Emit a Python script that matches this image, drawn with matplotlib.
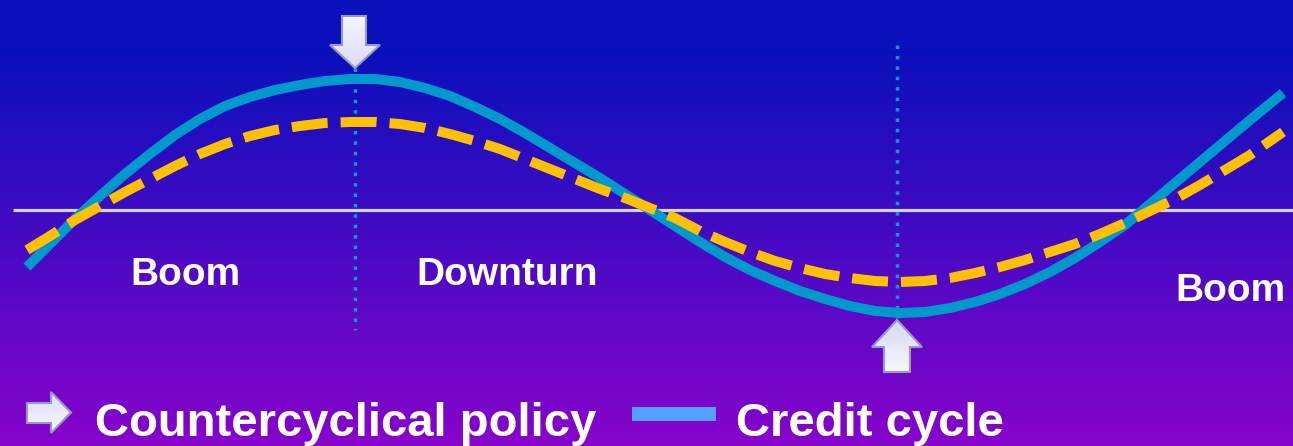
import numpy as np
import matplotlib
matplotlib.use('Agg')
import matplotlib.pyplot as plt
from matplotlib.patches import Polygon, Rectangle

plt.rcParams['font.family'] = ['Liberation Sans', 'DejaVu Sans']

# Credit cycle (solid) - level relative to the zero line
credit_x = [27, 50, 75, 100, 125, 150, 175, 200, 225, 250, 275, 300, 325,
            350, 375, 400, 425, 450, 475, 500, 525, 550, 575, 600, 625, 650,
            675, 700, 725, 750, 775, 800, 825, 850, 875, 900, 925, 950, 975,
            1000, 1025, 1050, 1075, 1100, 1125, 1150, 1175, 1200, 1225, 1250,
            1283]
credit_y = [-57, -34, -9, 14, 36, 56, 75, 91, 104, 113, 120, 125, 129,
            131, 131, 128, 122, 114, 103, 91, 77, 62, 47, 32, 16, 0,
            -16, -32, -47, -60, -71, -81, -89, -96, -101, -103, -102, -98, -92,
            -84, -74, -62, -48, -32, -15, 6, 27, 48, 69, 90,
            117]

# Cycle with countercyclical policy (dashed)
policy_x = [27, 50, 75, 100, 125, 150, 175, 200, 225, 250, 275, 300, 325,
            350, 375, 400, 425, 450, 475, 500, 525, 550, 575, 600, 625, 650,
            675, 700, 725, 750, 775, 800, 825, 850, 875, 900, 925, 950, 975,
            1000, 1025, 1050, 1075, 1100, 1125, 1150, 1175, 1200, 1225, 1250,
            1283]
policy_y = [-40, -26, -10, 4, 18, 31, 44, 56, 66, 74, 80, 84, 87,
            88, 88, 86, 82, 76, 69, 61, 51, 41, 31, 21, 12, 2,
            -8, -21, -32, -42, -51, -58, -64, -68, -71, -72, -71, -68, -63,
            -57, -50, -42, -34, -24, -13, -1, 11, 25, 40, 55,
            78]

# turning points where policy acts
peak_x = 355
trough_x = 897

phase_labels = ['Boom', 'Downturn', 'Boom']
phase_x = [185, 507, 1230]
phase_y = [-65, -65, -81]

legend_labels = ['Countercyclical policy', 'Credit cycle']

W, H = 1293, 446
fig = plt.figure(figsize=(W / 100, H / 100), dpi=100)
ax = fig.add_axes([0, 0, 1, 1])
ax.set_xlim(0, W)
ax.set_ylim(-236, 210)
ax.axis('off')

# background gradient blue -> purple
rows = np.linspace(0, 1, H)
t = np.clip((rows * H - 50) / (H - 50), 0, 1)
top = np.array([10, 16, 188]) / 255
bot = np.array([136, 4, 204]) / 255
grad = top[None, :] * (1 - t[:, None]) + bot[None, :] * t[:, None]
ax.imshow(grad[:, None, :], extent=[0, W, -236, 210], aspect='auto',
          origin='upper', zorder=0)

# zero line
ax.plot([13, W], [0, 0], color='#d2d2e8', lw=2.3, zorder=1, solid_capstyle='butt')

# vertical dotted markers
ax.plot([peak_x, peak_x], [142, -120], color='#0a9ad0', lw=2.5,
        dashes=(1.0, 2.0), zorder=2)
ax.plot([trough_x, trough_x], [165, -108], color='#0a9ad0', lw=2.5,
        dashes=(1.0, 2.0), zorder=2)

ax.plot(credit_x, credit_y, color='#0099cc', lw=7.2, zorder=3,
        solid_capstyle='butt', solid_joinstyle='round')
ax.plot(policy_x, policy_y, color='#ffc000', lw=7.2, zorder=4,
        dashes=(3.6, 1.3), dash_capstyle='butt', dash_joinstyle='round')


def block_arrow(pts, light, dark):
    poly = Polygon(pts, closed=True, facecolor='none', edgecolor='#9898c0',
                   lw=1.5, zorder=6)
    ax.add_patch(poly)
    xs = [p[0] for p in pts]
    ys = [p[1] for p in pts]
    g = np.linspace(0, 1, 50)[:, None, None]
    c0 = np.array(light)[None, None, :]
    c1 = np.array(dark)[None, None, :]
    img = c0 * (1 - g) + c1 * g
    im = ax.imshow(img, extent=[min(xs), max(xs), min(ys), max(ys)],
                   aspect='auto', origin='upper', zorder=5)
    im.set_clip_path(poly)


# down arrow above the peak
block_arrow([(342, 194), (366, 194), (366, 165), (380, 165), (355, 142),
             (330, 165), (342, 165)], (0.96, 0.96, 1.0), (0.86, 0.86, 0.96))
# up arrow below the trough
block_arrow([(897, -110), (922, -137), (910, -137), (910, -162), (884, -162),
             (884, -137), (872, -137)], (0.84, 0.84, 0.95), (0.97, 0.97, 1.0))
# legend arrow
block_arrow([(27, -193), (51, -193), (51, -182), (71, -202.5), (51, -223),
             (51, -213), (27, -213)], (0.86, 0.86, 0.96), (0.97, 0.97, 1.0))

for lab, x, y in zip(phase_labels, phase_x, phase_y):
    ax.text(x, y, lab, color='white', fontsize=28, fontweight='bold',
            ha='center', va='center', zorder=7)

ax.add_patch(Rectangle((632, -211), 84, 14, facecolor='#55a0ff',
                       edgecolor='none', zorder=6))
ax.text(95, -226, legend_labels[0], color='white', fontsize=34,
        fontweight='bold', ha='left', va='baseline', zorder=7)
ax.text(736, -226, legend_labels[1], color='white', fontsize=34,
        fontweight='bold', ha='left', va='baseline', zorder=7)

fig.savefig('out.png', dpi=100)
